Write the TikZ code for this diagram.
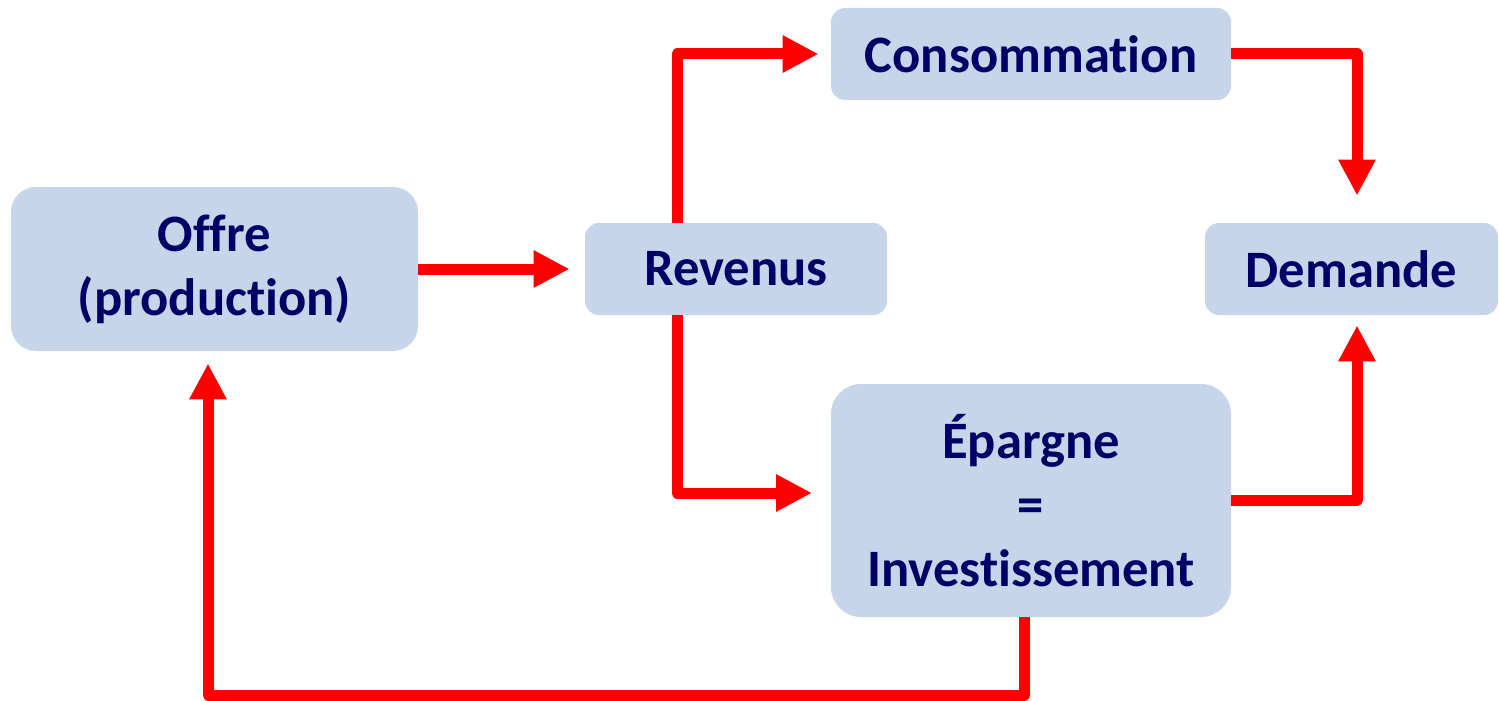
\documentclass[tikz,border=0pt]{standalone}
\usepackage{fontspec}
\setmainfont[Ligatures={NoCommon,NoContextual}]{Carlito}
\usetikzlibrary{arrows.meta}
\definecolor{boxfill}{RGB}{198,213,234}
\definecolor{navy}{RGB}{0,0,102}
\definecolor{arrred}{RGB}{255,0,0}
\begin{document}
\begin{tikzpicture}[x=0.5pt,y=-0.5pt,
  box/.style={fill=boxfill, inner sep=0pt, align=center, text=navy,
    font=\fontsize{26.3}{32}\selectfont\bfseries},
  flow/.style={draw=arrred, line width=5.5pt, line join=round,
    -{Triangle[length=18pt,width=17.5pt]}}]
\useasboundingbox (0,0) rectangle (1499,701);
\node[box, minimum width=203.5pt, minimum height=82pt, rounded corners=12.5pt] (offre) at (214.5,269) {Offre\\(production)};
\node[box, minimum width=151pt, minimum height=46pt, rounded corners=7pt] (rev) at (736,269) {Revenus};
\node[box, minimum width=200pt, minimum height=46pt, rounded corners=7pt] (cons) at (1031,54) {Consommation};
\node[box, minimum width=146.5pt, minimum height=46pt, rounded corners=7pt] (dem) at (1351.5,269) {Demande};
\node[box, minimum width=200pt, minimum height=116.5pt, rounded corners=15pt] (ep) at (1031,500.5) {Épargne\\=\\Investissement};
\coordinate (cr) at (677,0);
\coordinate (cd) at (1357,0);
\coordinate (ce) at (1024,0);
\coordinate (co) at (208,0);
\draw[flow] (offre.east) -- ([xshift=-7.5pt]rev.west);
\draw[flow] (rev.north -| cr) -- (cr |- cons.west) -- ([xshift=-6pt]cons.west);
\draw[flow] (cons.east) -- (cd |- cons.east) -- ([yshift=13.5pt]cd |- dem.north);
\draw[flow] (rev.south -| cr) -- (677,493) -- (812,493);
\draw[flow] (ep.east) -- (cd |- ep.east) -- ([yshift=-5pt]cd |- dem.south);
\draw[flow] (ep.south -| ce) -- (1024,695) -- (208,695) -- ([yshift=-6pt]co |- offre.south);
\end{tikzpicture}
\end{document}
